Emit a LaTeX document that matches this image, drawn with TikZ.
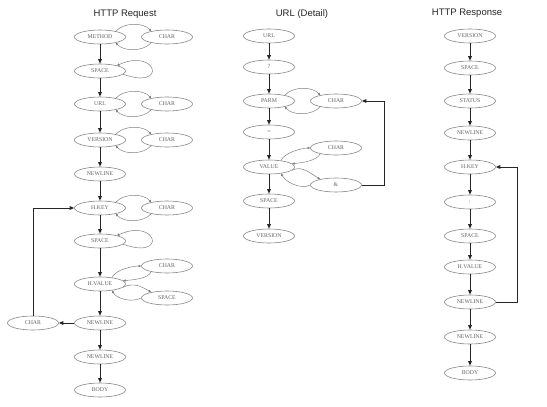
\documentclass[tikz,border=0pt]{standalone}
\usepackage{fontspec}
\setmainfont{Liberation Serif}
\newfontfamily\titlefont{Liberation Sans}
\usetikzlibrary{arrows.meta,shapes.geometric}
\definecolor{nodeline}{RGB}{135,135,135}
\definecolor{nodetext}{RGB}{100,100,100}
\definecolor{loopline}{RGB}{120,120,120}
\tikzset{
  st/.style={draw=nodeline, line width=0.6pt, ellipse, minimum width=51pt, minimum height=14pt, inner sep=0pt, text=nodetext, font=\fontsize{5.8}{6}\selectfont},
  ttl/.style={font=\titlefont\fontsize{9.5}{11}\selectfont, text=black!85},
  main/.style={draw=black!85, line width=1pt, -{Triangle[length=4.5pt,width=3.6pt]}},
  lp/.style={draw=loopline, line width=0.45pt, -{Triangle[length=2.5pt,width=2.2pt]}},
}
\begin{document}
\begin{tikzpicture}[x=1pt,y=-1pt]
\useasboundingbox (0,0) rectangle (547,407);
\fill[white] (0,0) rectangle (547,407);
% titles
\node[ttl] (t1) at (125,14) {HTTP Request};
\node[ttl] (t2) at (302,14) {URL (Detail)};
\node[ttl] (t3) at (467,13) {HTTP Response};
% ---------- HTTP Request ----------
\node[st] (a1) at (100,37) {METHOD};
\node[st] (a1c) at (167,37) {CHAR};
\node[st] (a2) at (100,71) {SPACE};
\node[st] (a3) at (100,104) {URL};
\node[st] (a3c) at (167,104) {CHAR};
\node[st] (a4) at (100,140) {VERSION};
\node[st] (a4c) at (167,140) {CHAR};
\node[st] (a5) at (100,174) {NEWLINE};
\node[st] (a6) at (100,208) {H.KEY};
\node[st] (a6c) at (167,208) {CHAR};
\node[st] (a7) at (100,241) {SPACE};
\node[st] (a8) at (100,284) {H.VALUE};
\node[st] (a8c) at (167,266) {CHAR};
\node[st] (a8s) at (167,298) {SPACE};
\node[st] (a9) at (100,323) {NEWLINE};
\node[st] (a9c) at (33,323) {CHAR};
\node[st] (a10) at (100,357) {NEWLINE};
\node[st] (a11) at (100,390) {BODY};
\foreach \u/\v in {a1/a2,a2/a3,a3/a4,a4/a5,a5/a6,a6/a7,a7/a8,a8/a9,a9/a10,a10/a11}
  \draw[main] (\u) -- (\v);
\draw[main] (a9) -- (a9c);
\draw[main] (a9c.north) |- (a6.west);
% pairs
\foreach \u/\v in {a1/a1c,a3/a3c,a4/a4c,a6/a6c}{
  \draw[lp] (\u.20) .. controls +(8,-9) and +(-8,-9) .. (\v.160);
  \draw[lp] (\v.200) .. controls +(-8,9) and +(8,9) .. (\u.-20);
}
% self loops
\foreach \u in {a2,a7}
  \draw[lp] (\u.-8) .. controls +(45,16) and +(40,-18) .. (\u.18);
% H.VALUE
\draw[lp] (a8.28) .. controls +(3,-8) and +(-8,0) .. (a8c.west);
\draw[lp] (a8c.200) .. controls +(-3,7) and +(10,-1) .. (a8.8);
\draw[lp] (a8.-8) .. controls +(10,-5) and +(-10,-6) .. (a8s.160);
\draw[lp] (a8s.west) .. controls +(-10,5) and +(4,8) .. (a8.-28);
% ---------- URL (Detail) ----------
\node[st] (b1) at (269,36) {URL};
\node[st] (b2) at (269,67) {?};
\node[st] (b3) at (269,101) {PARM};
\node[st] (b3c) at (336,101) {CHAR};
\node[st] (b4) at (269,132) {=};
\node[st] (b5) at (269,167) {VALUE};
\node[st] (b5c) at (336,148) {CHAR};
\node[st] (b5a) at (336,185) {\&};
\node[st] (b6) at (269,201) {SPACE};
\node[st] (b7) at (269,236) {VERSION};
\foreach \u/\v in {b1/b2,b2/b3,b3/b4,b4/b5,b5/b6,b6/b7}
  \draw[main] (\u) -- (\v);
\draw[lp] (b3.20) .. controls +(8,-9) and +(-8,-9) .. (b3c.160);
\draw[lp] (b3c.200) .. controls +(-8,9) and +(8,9) .. (b3.-20);
\draw[lp] (b5.28) .. controls +(3,-8) and +(-8,0) .. (b5c.west);
\draw[lp] (b5c.200) .. controls +(-3,7) and +(10,-1) .. (b5.8);
\draw[lp] (b5.-8) .. controls +(10,-5) and +(-10,-6) .. (b5a.160);
\draw[lp] (b5a.west) .. controls +(-10,5) and +(4,8) .. (b5.-28);
\coordinate (bk) at (384,185);
\draw[main] (b5a.east) -- (bk) |- (b3c.east);
% ---------- HTTP Response ----------
\node[st] (c1) at (470,36) {VERSION};
\node[st] (c2) at (470,68) {SPACE};
\node[st] (c3) at (470,101) {STATUS};
\node[st] (c4) at (470,133) {NEWLINE};
\node[st] (c5) at (470,167) {H.KEY};
\node[st] (c6) at (470,202) {:};
\node[st] (c7) at (470,236) {SPACE};
\node[st] (c8) at (470,267) {H.VALUE};
\node[st] (c9) at (470,302) {NEWLINE};
\node[st] (c10) at (470,337) {NEWLINE};
\node[st] (c11) at (470,373) {BODY};
\foreach \u/\v in {c1/c2,c2/c3,c3/c4,c4/c5,c5/c6,c6/c7,c7/c8,c8/c9,c9/c10,c10/c11}
  \draw[main] (\u) -- (\v);
\coordinate (ck) at (517,302);
\draw[main] (c9.east) -- (ck) |- (c5.east);
\end{tikzpicture}
\end{document}
